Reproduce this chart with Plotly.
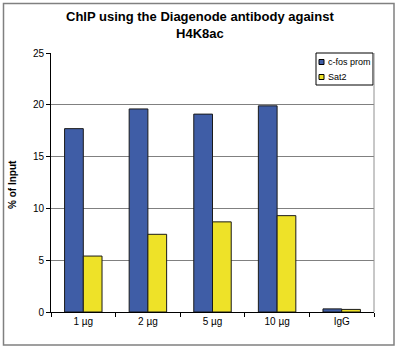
import plotly.graph_objects as go

categories = ["1 µg", "2 µg", "5 µg", "10 µg", "IgG"]
cfos_prom = [17.7, 19.6, 19.1, 19.9, 0.3]
sat2 = [5.4, 7.5, 8.7, 9.3, 0.25]
series_names = ["c-fos prom", "Sat2"]
series_colors = ["#3F5DA6", "#EEE228"]

W, H = 400, 351
L, R, T, B = 51, 26, 53, 39
pw, ph = W - L - R, H - T - B

def px(x):
    return (x - L) / pw

def py(y):
    return (H - B - y) / ph

fig = go.Figure()
for name, vals, col in zip(series_names, [cfos_prom, sat2], series_colors):
    fig.add_trace(go.Bar(x=categories, y=vals, name=name,
                         marker=dict(color=col, line=dict(color="#1a1a1a", width=1))))

fig.update_layout(
    width=W, height=H,
    margin=dict(l=L, r=R, t=T, b=B, autoexpand=False),
    paper_bgcolor="white", plot_bgcolor="white",
    barmode="group", bargap=0.42, bargroupgap=0,
    font=dict(family="Liberation Sans, Arial, sans-serif", size=10, color="black"),
    showlegend=False,
)
fig.update_yaxes(range=[0, 25], dtick=5, showgrid=True, gridcolor="#808080", gridwidth=1,
                 showline=True, linecolor="black", linewidth=1,
                 ticks="outside", ticklen=4, tickcolor="black", zeroline=False,
                 tickfont=dict(size=10))
fig.update_xaxes(showline=True, linecolor="black", linewidth=1,
                 ticks="outside", ticklen=4, tickcolor="black", tickson="boundaries",
                 tickfont=dict(size=10))

fig.add_annotation(text="<b>ChIP using the Diagenode antibody against<br>H4K8ac</b>",
                   xref="paper", yref="paper", x=px(200), y=py(25),
                   xanchor="center", yanchor="middle", showarrow=False,
                   font=dict(size=13))
fig.add_annotation(text="<b>% of Input</b>", textangle=-90,
                   xref="paper", yref="paper", x=px(12), y=py(185),
                   xanchor="center", yanchor="middle", showarrow=False,
                   font=dict(size=10))

# custom legend
fig.add_shape(type="rect", xref="paper", yref="paper",
              x0=px(316), x1=px(373), y0=py(85), y1=py(53),
              line=dict(color="black", width=1), fillcolor="white", layer="above")
for i, (name, col) in enumerate(zip(series_names, series_colors)):
    yc = 62 + i * 15
    fig.add_shape(type="rect", xref="paper", yref="paper",
                  x0=px(319), x1=px(324), y0=py(yc + 2.5), y1=py(yc - 2.5),
                  line=dict(color="black", width=1), fillcolor=col, layer="above")
    fig.add_annotation(text=name, xref="paper", yref="paper",
                       x=px(325.5), y=py(yc), xanchor="left", yanchor="middle",
                       showarrow=False, font=dict(size=9))

# plot area right border
fig.add_shape(type="line", xref="paper", yref="paper", x0=1, x1=1, y0=0, y1=1,
              line=dict(color="#909090", width=1))
# outer chart border
fig.add_shape(type="rect", xref="paper", yref="paper",
              x0=px(3.5), x1=px(394), y0=py(345), y1=py(3.5),
              line=dict(color="#808080", width=1.5))

fig.write_html("out.html")
